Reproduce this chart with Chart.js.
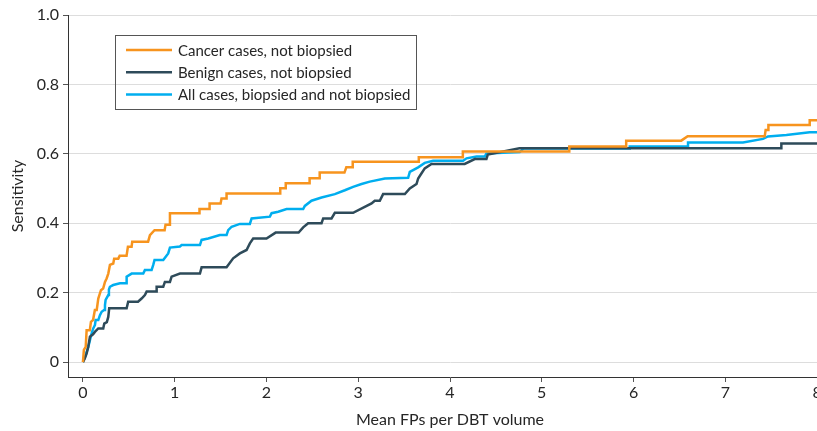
<!DOCTYPE html>
<html>
<head>
<meta charset="utf-8">
<script src="https://cdn.jsdelivr.net/npm/chart.js@4/dist/chart.umd.min.js"></script>
<style>
  html, body { margin: 0; padding: 0; background: #ffffff; overflow: hidden; }
  #wrap { width: 817px; height: 431px; overflow: hidden; }
  canvas { display: block; }
</style>
</head>
<body>
<div id="wrap"><canvas id="c" width="840" height="431"></canvas></div>
<script>
// ---- data ----
const seriesLabels = ["Cancer cases, not biopsied", "Benign cases, not biopsied", "All cases, biopsied and not biopsied"];

const cancerPoints = [[0,0],[0.01,0.035],[0.03,0.044],[0.04,0.092],[0.075,0.092],[0.087,0.116],[0.11,0.121],[0.13,0.15],[0.15,0.15],[0.167,0.183],[0.196,0.207],[0.22,0.212],[0.24,0.231],[0.258,0.241],[0.276,0.255],[0.294,0.28],[0.33,0.284],[0.34,0.298],[0.385,0.298],[0.40,0.306],[0.475,0.306],[0.49,0.332],[0.53,0.332],[0.537,0.347],[0.71,0.347],[0.73,0.366],[0.78,0.38],[0.89,0.38],[0.90,0.396],[0.945,0.396],[0.948,0.429],[1.27,0.429],[1.27,0.441],[1.38,0.441],[1.38,0.457],[1.50,0.457],[1.51,0.471],[1.56,0.471],[1.565,0.486],[2.15,0.486],[2.15,0.501],[2.21,0.501],[2.21,0.515],[2.47,0.515],[2.47,0.53],[2.58,0.53],[2.58,0.546],[2.85,0.546],[2.87,0.561],[2.94,0.561],[2.94,0.577],[3.66,0.577],[3.66,0.59],[4.14,0.59],[4.14,0.607],[5.30,0.607],[5.30,0.621],[5.92,0.621],[5.92,0.638],[6.52,0.638],[6.59,0.651],[7.43,0.651],[7.44,0.669],[7.47,0.669],[7.47,0.683],[7.92,0.683],[7.92,0.697],[8.1,0.697]];

const benignPoints = [[0,0],[0.02,0.01],[0.04,0.025],[0.058,0.044],[0.076,0.073],[0.11,0.08],[0.13,0.087],[0.167,0.097],[0.221,0.097],[0.232,0.111],[0.26,0.115],[0.276,0.13],[0.286,0.155],[0.476,0.155],[0.493,0.174],[0.6,0.174],[0.639,0.183],[0.675,0.193],[0.694,0.203],[0.803,0.203],[0.803,0.217],[0.875,0.217],[0.893,0.231],[0.948,0.231],[0.966,0.246],[1.057,0.255],[1.275,0.255],[1.293,0.273],[1.565,0.273],[1.637,0.299],[1.71,0.313],[1.783,0.323],[1.819,0.342],[1.855,0.356],[2.0,0.356],[2.1,0.373],[2.35,0.373],[2.40,0.388],[2.454,0.40],[2.6,0.40],[2.618,0.414],[2.709,0.414],[2.745,0.43],[2.944,0.43],[3.145,0.457],[3.18,0.465],[3.235,0.465],[3.271,0.484],[3.508,0.484],[3.562,0.50],[3.635,0.513],[3.653,0.529],[3.69,0.544],[3.725,0.558],[3.798,0.571],[4.16,0.571],[4.27,0.585],[4.397,0.585],[4.412,0.598],[4.757,0.616],[7.611,0.616],[7.611,0.63],[8.1,0.63]];

const allPoints = [[0,0],[0.03,0.02],[0.058,0.044],[0.076,0.063],[0.095,0.083],[0.112,0.097],[0.131,0.107],[0.138,0.121],[0.167,0.121],[0.185,0.135],[0.204,0.145],[0.23,0.15],[0.24,0.164],[0.247,0.179],[0.276,0.193],[0.283,0.209],[0.294,0.217],[0.33,0.222],[0.403,0.227],[0.476,0.227],[0.476,0.246],[0.531,0.255],[0.657,0.255],[0.675,0.265],[0.748,0.265],[0.766,0.28],[0.78,0.294],[0.875,0.294],[0.929,0.313],[0.948,0.33],[1.057,0.333],[1.075,0.337],[1.275,0.337],[1.293,0.352],[1.365,0.356],[1.492,0.366],[1.565,0.366],[1.583,0.38],[1.62,0.39],[1.71,0.398],[1.819,0.398],[1.838,0.414],[2.037,0.419],[2.056,0.429],[2.128,0.433],[2.219,0.441],[2.4,0.441],[2.418,0.45],[2.491,0.465],[2.6,0.474],[2.745,0.484],[2.854,0.495],[2.944,0.505],[3.036,0.513],[3.126,0.52],[3.29,0.529],[3.544,0.531],[3.562,0.548],[3.653,0.561],[3.725,0.574],[3.816,0.58],[4.143,0.58],[4.18,0.587],[4.289,0.592],[4.379,0.592],[4.397,0.601],[4.76,0.605],[4.8,0.615],[5.959,0.615],[5.959,0.621],[6.594,0.621],[6.594,0.633],[7.193,0.633],[7.411,0.643],[7.465,0.65],[7.666,0.654],[7.92,0.662],[8.1,0.662]];

const xTicks = [0, 1, 2, 3, 4, 5, 6, 7, 8];
const yTicks = [0, 0.2, 0.4, 0.6, 0.8, 1.0];
const yTickLabels = ["0", "0.2", "0.4", "0.6", "0.8", "1.0"];

// ---- styling ----
const colors = ["#F7941E", "#2E4B5A", "#00AEEF"];
const FONT = "Lato, 'Open Sans', sans-serif";
const TEXT = "#262626";

const toXY = pts => pts.map(p => ({x: p[0], y: p[1]}));
const seriesData = [cancerPoints, benignPoints, allPoints];

const legendPlugin = {
  id: 'boxLegend',
  afterDraw(chart) {
    const ctx = chart.ctx;
    ctx.save();
    ctx.strokeStyle = "#555555";
    ctx.lineWidth = 1;
    ctx.strokeRect(115.5, 35.5, 301, 74);
    ctx.font = "15px " + FONT;
    ctx.textBaseline = "middle";
    ctx.textAlign = "left";
    chart.data.datasets.forEach((ds, i) => {
      const y = 50 + i * 22.3;
      ctx.strokeStyle = ds.borderColor;
      ctx.lineWidth = 2.5;
      ctx.beginPath();
      ctx.moveTo(126, y);
      ctx.lineTo(172, y);
      ctx.stroke();
      ctx.fillStyle = TEXT;
      ctx.fillText(ds.label, 178, y + 1);
    });
    ctx.restore();
  }
};

new Chart(document.getElementById('c'), {
  type: 'line',
  data: {
    datasets: seriesData.map((pts, i) => ({
      label: seriesLabels[i],
      data: toXY(pts),
      borderColor: colors[i],
      backgroundColor: colors[i],
      borderWidth: 2.5,
      pointRadius: 0,
      tension: 0,
      fill: false
    }))
  },
  options: {
    responsive: false,
    animation: false,
    devicePixelRatio: 1,
    layout: { padding: { left: 0, top: 15, right: 8, bottom: 0 } },
    plugins: { legend: { display: false }, tooltip: { enabled: false } },
    scales: {
      x: {
        type: 'linear',
        min: -0.163,
        max: 8.163,
        afterBuildTicks: s => { s.ticks = xTicks.map(v => ({value: v})); },
        afterFit: s => { s.height = 54; },
        grid: { drawOnChartArea: false, drawTicks: true, tickLength: 5, tickColor: "#555555", tickWidth: 1 },
        border: { display: true, color: "#333333", width: 1 },
        ticks: { color: TEXT, font: { family: FONT, size: 16 }, padding: 1, maxRotation: 0,
                 callback: v => String(v) },
        title: { display: true, text: "Mean FPs per DBT volume", color: TEXT,
                 font: { family: FONT, size: 16 }, padding: { top: 0, bottom: 1.4 } }
      },
      y: {
        type: 'linear',
        min: -0.043,
        max: 1.0,
        afterBuildTicks: s => { s.ticks = yTicks.map(v => ({value: v})); },
        afterFit: s => { s.width = 68; },
        grid: { drawOnChartArea: true, color: "#dddddd", lineWidth: 1, drawTicks: true, tickLength: 5, tickColor: "#555555" },
        border: { display: true, color: "#333333", width: 1 },
        ticks: { color: TEXT, font: { family: FONT, size: 16 }, padding: 4,
                 callback: (v) => { const k = yTicks.findIndex(t => Math.abs(t - v) < 1e-9); return k >= 0 ? yTickLabels[k] : ""; } },
        title: { display: true, text: "Sensitivity", color: TEXT,
                 font: { family: FONT, size: 16 }, padding: { top: 8.4, bottom: 0 } }
      }
    }
  },
  plugins: [legendPlugin]
});
</script>
</body>
</html>
